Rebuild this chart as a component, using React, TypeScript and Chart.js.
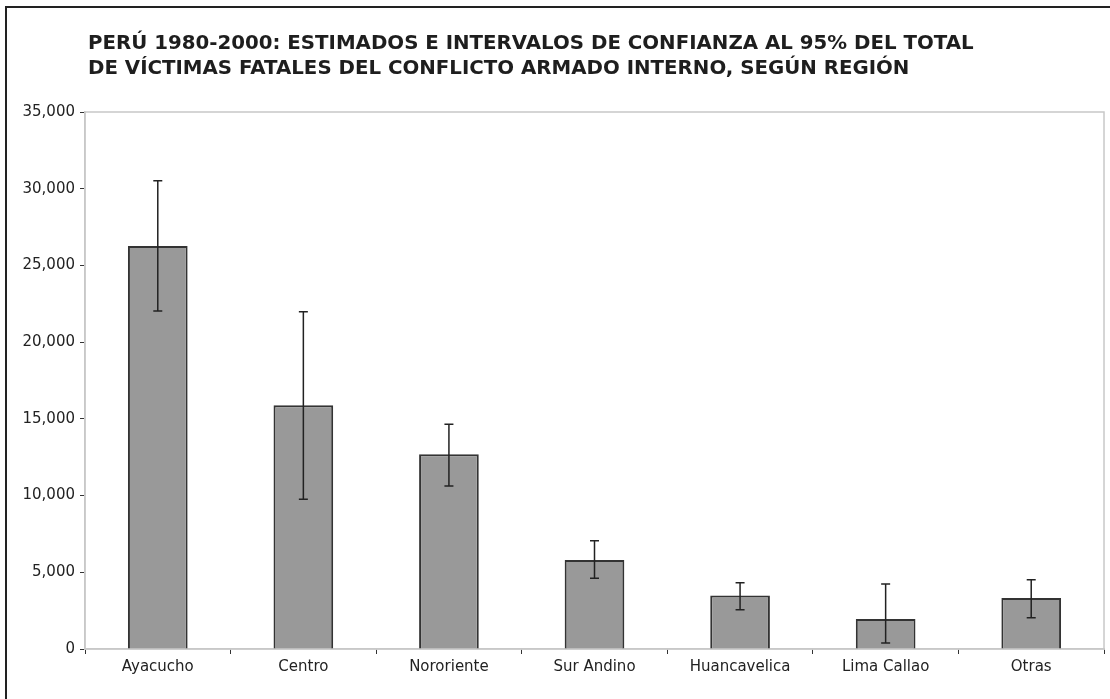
import React, { useEffect, useRef } from "react";
import { Chart, registerables } from "chart.js";

Chart.register(...registerables);

const titleLines = [
  "PERÚ 1980-2000: ESTIMADOS E INTERVALOS DE CONFIANZA AL 95% DEL TOTAL",
  "DE VÍCTIMAS FATALES DEL CONFLICTO ARMADO INTERNO, SEGÚN REGIÓN",
];
const regions = ["Ayacucho", "Centro", "Nororiente", "Sur Andino", "Huancavelica", "Lima Callao", "Otras"];
const estimates = [26259, 15890, 12700, 5800, 3480, 1960, 3330];
const lowerBounds = [22030, 9760, 10630, 4610, 2560, 390, 2040];
const upperBounds = [30520, 21980, 14650, 7050, 4320, 4240, 4520];
const yTicks = [0, 5000, 10000, 15000, 20000, 25000, 30000, 35000];

const FONT = "'DejaVu Sans', Verdana, sans-serif";

const errorBarPlugin = {
  id: "errorBars",
  afterDatasetsDraw(chart: any) {
    const ctx = chart.ctx;
    const meta = chart.getDatasetMeta(0);
    const y = chart.scales.y;
    ctx.save();
    ctx.strokeStyle = "#222";
    ctx.lineWidth = 1.5;
    meta.data.forEach((bar: any, i: number) => {
      const x = bar.x;
      const yHi = y.getPixelForValue(upperBounds[i]);
      const yLo = y.getPixelForValue(lowerBounds[i]);
      ctx.beginPath();
      ctx.moveTo(x, yHi);
      ctx.lineTo(x, yLo);
      ctx.moveTo(x - 4.5, yHi);
      ctx.lineTo(x + 4.5, yHi);
      ctx.moveTo(x - 4.5, yLo);
      ctx.lineTo(x + 4.5, yLo);
      ctx.stroke();
    });
    ctx.restore();
  },
};

const frameTitlePlugin = {
  id: "frameTitle",
  beforeDatasetsDraw(chart: any) {
    const { ctx, chartArea } = chart;
    ctx.save();
    ctx.strokeStyle = "#c8c8c8";
    ctx.lineWidth = 1.5;
    ctx.strokeRect(chartArea.left, chartArea.top, chartArea.right - chartArea.left, chartArea.bottom - chartArea.top);
    ctx.restore();
  },
  afterDraw(chart: any) {
    const ctx = chart.ctx;
    ctx.save();
    ctx.fillStyle = "#1e1e1e";
    ctx.font = "bold 19.8px 'DejaVu Sans', sans-serif";
    ctx.textBaseline = "alphabetic";
    ctx.textAlign = "left";
    titleLines.forEach((line, i) => {
      ctx.fillText(line, 88, 48.5 + i * 25);
    });
    ctx.restore();
  },
};

export default function App() {
  const ref = useRef<HTMLCanvasElement>(null);
  useEffect(() => {
    if (!ref.current) return;
    const chart = new Chart(ref.current, {
      type: "bar",
      data: {
        labels: regions,
        datasets: [
          {
            data: estimates,
            backgroundColor: "#999999",
            borderColor: "#333333",
            borderWidth: 2,
            barPercentage: 0.41,
            categoryPercentage: 1.0,
          },
        ],
      },
      options: {
        responsive: false,
        animation: false,
        layout: { padding: { top: 112, left: 0, right: 6, bottom: 0 } },
        plugins: {
          legend: { display: false },
          title: { display: false },
          tooltip: { enabled: false },
        },
        scales: {
          x: {
            afterFit: (s: any) => {
              s.height = 50;
            },
            grid: { drawOnChartArea: false, tickLength: 5, color: "#333", tickColor: "#333", offset: true },
            border: { display: true, color: "#c8c8c8", width: 1.5 },
            ticks: { color: "#222", font: { family: FONT, size: 15 }, padding: 4 },
          },
          y: {
            min: 0,
            max: 35000,
            afterFit: (s: any) => {
              s.width = 85;
            },
            afterBuildTicks: (s: any) => {
              s.ticks = yTicks.map((v) => ({ value: v }));
            },
            grid: { drawOnChartArea: false, tickLength: 5, color: "#333", tickColor: "#333" },
            border: { display: true, color: "#c8c8c8", width: 1.5 },
            ticks: {
              color: "#222",
              font: { family: FONT, size: 15 },
              padding: 5,
              callback: (v: any) => Number(v).toLocaleString("en-US"),
            },
          },
        },
      },
      plugins: [errorBarPlugin, frameTitlePlugin],
    });
    return () => chart.destroy();
  }, []);

  return (
    <div style={{ position: "fixed", left: 0, top: 0, width: 1110, height: 699, overflow: "hidden", background: "#fff" }}>
      <div
        style={{
          position: "absolute",
          left: 5,
          top: 6,
          width: 1200,
          height: 800,
          border: "2px solid #222",
        }}
      />
      <canvas ref={ref} width={1110} height={699} style={{ position: "absolute", left: 0, top: 0 }} />
    </div>
  );
}
